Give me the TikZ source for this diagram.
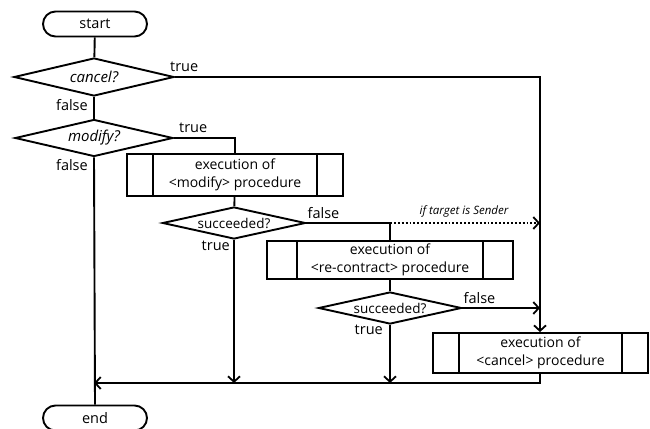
\documentclass[tikz,border=0pt]{standalone}
\usepackage{fontspec}
\setmainfont{Open Sans}
\usetikzlibrary{shapes.geometric,shapes.misc,arrows.meta}

\tikzset{
  flow/.style={line width=1.9pt},
  arr/.style={flow,-{Straight Barb[length=5.5pt,width=12pt,line width=1.8pt]}},
  terminal/.style={rounded rectangle,draw,line width=1.9pt,minimum width=104pt,minimum height=25pt,inner sep=0pt,font=\fontsize{14.5}{16}\selectfont},
  decision/.style={diamond,draw,line width=1.9pt,inner sep=0pt,aspect=4.2,font=\fontsize{15}{17}\selectfont\itshape},
  testbox/.style={diamond,draw,line width=1.9pt,inner sep=0pt,aspect=4.5,minimum width=143pt,minimum height=32pt,font=\fontsize{13.5}{16}\selectfont},
  procbox/.style={rectangle,draw,line width=1.9pt,inner sep=0pt,align=center,font=\fontsize{14}{18}\selectfont},
  lbl/.style={font=\fontsize{14.5}{16}\selectfont,inner sep=0pt},
  note/.style={font=\fontsize{11.5}{13}\selectfont\itshape,inner sep=0pt}
}

% draws the two inner side bars of a predefined-process box
\newcommand{\sidebars}[2]{%
  \draw[flow] ([xshift=#2]#1.north west) -- ([xshift=#2]#1.south west);
  \draw[flow] ([xshift=-#2]#1.north east) -- ([xshift=-#2]#1.south east);}

\begin{document}
\begin{tikzpicture}[x=1pt,y=-1pt]
\useasboundingbox (0,0) rectangle (650,428);

% column coordinates
\coordinate (rcol) at (540,0);
\coordinate (join) at (94,383);

% nodes
\node[terminal] (start) at (95,24) {start};
\node[decision,minimum width=160pt,minimum height=38pt] (cancel) at (94,77) {cancel?};
\node[decision,minimum width=158pt,minimum height=37pt] (modify) at (94,138) {modify?};
\node[procbox,minimum width=216pt,minimum height=42pt] (mbox) at (235,175) {execution of\\\textless modify\textgreater{} procedure};
\node[testbox] (succA) at (234,223) {succeeded?};
\node[procbox,minimum width=246pt,minimum height=38pt] (rbox) at (390,260) {execution of\\\textless re-contract\textgreater{} procedure};
\node[testbox] (succB) at (390,308) {succeeded?};
\node[procbox,minimum width=215pt,minimum height=40pt] (cbox) at (540.5,353) {execution of\\\textless cancel\textgreater{} procedure};
\node[terminal] (end) at (95,418) {end};

\sidebars{mbox}{27pt}
\sidebars{rbox}{31pt}
\sidebars{cbox}{27pt}

% connectors
\draw[flow] (start) -- (cancel);
\draw[flow] (cancel) -- (modify);
\draw[arr] (cancel.east) -| (cbox.north -| rcol);
\draw[flow] (modify.east) -| (mbox.north);
\draw[flow] (mbox) -- (succA);
\draw[flow] (succA.east) -| (rbox.north);
\draw[arr,dotted] (rbox.north |- succA.east) -- (rcol |- succA.east);
\draw[flow] (rbox) -- (succB);
\draw[arr] (succB.east) -- (rcol |- succB.east);
\draw[arr] (succA.south) -- (succA |- join);
\draw[arr] (succB.south) -- (succB |- join);
\draw[arr] (cbox.south -| rcol) |- (join);
\draw[flow] (modify.south) -- (end.north);

% branch labels (shifts are in page direction: positive yshift is upward)
\node[lbl,anchor=south west] (tA) at ([xshift=-5pt,yshift=5pt]cancel.east) {true};
\node[lbl,anchor=north east] (fA) at ([xshift=-6pt,yshift=-2pt]cancel.south) {false};
\node[lbl,anchor=south west] (tB) at ([xshift=5pt,yshift=5pt]modify.east) {true};
\node[lbl,anchor=north east] (fB) at ([xshift=-6pt,yshift=-2pt]modify.south) {false};
\node[lbl,anchor=south west] (fC) at ([xshift=1pt,yshift=4pt]succA.east) {false};
\node[lbl,anchor=north east] (tC) at ([xshift=-4pt,yshift=-1pt]succA.south) {true};
\node[lbl,anchor=south west] (fD) at ([xshift=1pt,yshift=4pt]succB.east) {false};
\node[lbl,anchor=north east] (tD) at ([xshift=-7pt,yshift=0pt]succB.south) {true};
\node[note,anchor=south] (tgt) at (464,217) {if target is Sender};
\end{tikzpicture}
\end{document}
